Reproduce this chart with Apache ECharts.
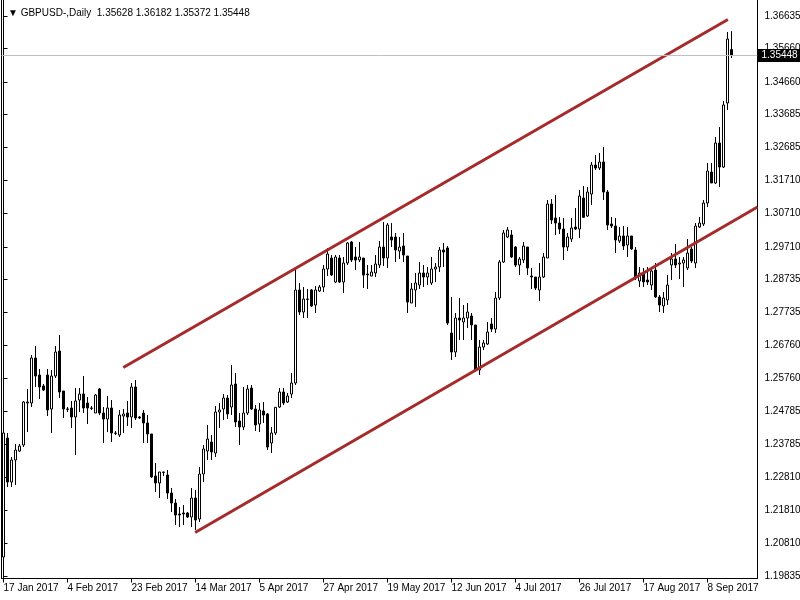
<!DOCTYPE html>
<html><head><meta charset="utf-8">
<script src="https://cdn.jsdelivr.net/npm/echarts@6/dist/echarts.min.js"></script>
<style>html,body{margin:0;padding:0;background:#fff}#c{width:800px;height:600px}</style>
</head><body><div id="c"></div>
<script>
const opens = [
1.20405,1.23975,1.22655,1.23315,1.23585,1.23765,1.25025,1.25025,1.26375,1.25865,
1.25535,1.25865,1.24845,1.25835,1.26585,1.25385,1.24845,1.24875,1.24605,1.25115,
1.25295,1.25025,1.24875,1.24725,1.25445,1.24725,1.24545,1.24875,1.24125,1.24065,
1.24635,1.24725,1.24605,1.25505,1.24605,1.24725,1.24425,1.24095,1.22835,1.22625,
1.22955,1.22865,1.22325,1.22025,1.21695,1.21725,1.21725,1.21605,1.22175,1.21545,
1.22895,1.23585,1.23855,1.23525,1.24755,1.24845,1.25175,1.24905,1.25595,1.24485,
1.24305,1.24725,1.25475,1.24845,1.24395,1.24785,1.24695,1.23825,1.24125,1.24905,
1.25355,1.25055,1.25295,1.25625,1.28415,1.27755,1.28145,1.28415,1.27965,1.28385,
1.28505,1.29045,1.29375,1.28655,1.29375,1.28655,1.29225,1.29855,1.29405,1.29315,
1.29375,1.28895,1.28835,1.28925,1.29165,1.29705,1.29375,1.30005,1.30005,1.29585,
1.29735,1.29435,1.28025,1.28415,1.28565,1.28925,1.28805,1.28625,1.29045,1.29105,
1.29615,1.29675,1.27125,1.26555,1.27575,1.27455,1.27575,1.27635,1.27365,1.26015,
1.26705,1.26795,1.27395,1.27245,1.28175,1.29255,1.30005,1.30065,1.29705,1.29165,
1.29315,1.29705,1.28835,1.28805,1.28415,1.28805,1.29375,1.30995,1.30575,1.30425,
1.30245,1.29705,1.29945,1.30305,1.30245,1.31175,1.30635,1.31295,1.32165,1.32075,
1.32255,1.31355,1.30395,1.30335,1.29885,1.30035,1.29765,1.30035,1.29615,1.28685,
1.28925,1.28715,1.28565,1.29015,1.28205,1.27935,1.28115,1.29165,1.29345,1.29195,
1.29225,1.29075,1.29645,1.29225,1.30305,1.30395,1.31025,1.31955,1.31625,1.32825,
1.32105,1.34025,1.35628];
const highs = [
1.24155,1.24125,1.23405,1.23795,1.23795,1.25085,1.25445,1.26465,1.26735,1.26045,
1.25595,1.26045,1.26015,1.26735,1.27065,1.25385,1.24905,1.25085,1.25475,1.25475,
1.25835,1.25205,1.24935,1.25295,1.25475,1.24905,1.25235,1.25115,1.24185,1.24815,
1.24845,1.25085,1.25625,1.25715,1.24635,1.24815,1.24665,1.24095,1.23225,1.22955,
1.22955,1.23015,1.22475,1.22145,1.21905,1.21965,1.21755,1.22475,1.22415,1.23105,
1.23765,1.24365,1.24065,1.24935,1.25025,1.25295,1.25265,1.26165,1.25925,1.24725,
1.25505,1.25565,1.25565,1.24965,1.25025,1.25055,1.24725,1.24305,1.24905,1.25475,
1.25475,1.25325,1.25925,1.29045,1.28625,1.28505,1.28445,1.28445,1.28535,1.28565,
1.29165,1.29675,1.29465,1.29465,1.29465,1.29405,1.29855,1.29885,1.29705,1.29855,
1.29375,1.29165,1.29165,1.29465,1.29885,1.30455,1.30425,1.30425,1.30125,1.30005,
1.30125,1.29435,1.28625,1.28925,1.29255,1.29165,1.29105,1.29405,1.29225,1.29705,
1.29825,1.29735,1.28205,1.27725,1.28175,1.27965,1.28025,1.27725,1.27365,1.26915,
1.26915,1.27455,1.27575,1.28355,1.29315,1.30215,1.30305,1.30215,1.29735,1.29405,
1.29855,1.29705,1.29075,1.28805,1.29225,1.29525,1.31115,1.31145,1.31265,1.30605,
1.30575,1.30125,1.30575,1.30875,1.31415,1.31535,1.31505,1.32255,1.32465,1.32525,
1.32705,1.31415,1.30605,1.30575,1.30305,1.30335,1.30305,1.30035,1.29705,1.29105,
1.29075,1.29105,1.29105,1.29225,1.28265,1.28355,1.28865,1.29525,1.29795,1.29405,
1.29405,1.29945,1.29705,1.30425,1.30605,1.31115,1.32225,1.32225,1.33005,1.33305,
1.34085,1.36155,1.36182];
const lows = [
1.20165,1.22505,1.22505,1.22565,1.23555,1.23705,1.24155,1.24905,1.25505,1.25145,
1.25385,1.24635,1.24125,1.25775,1.25175,1.24575,1.24755,1.24275,1.23465,1.24755,
1.24725,1.24395,1.24815,1.24725,1.24665,1.23825,1.24155,1.23855,1.24065,1.24005,
1.24125,1.24335,1.24275,1.24515,1.24545,1.23825,1.23825,1.22775,1.22355,1.22175,
1.22835,1.22145,1.21755,1.21365,1.21305,1.21365,1.21575,1.21305,1.21215,1.21455,
1.22655,1.23315,1.23315,1.23405,1.24275,1.24515,1.24545,1.24665,1.24305,1.23765,
1.24215,1.24665,1.24815,1.24185,1.24155,1.24425,1.23615,1.23525,1.24065,1.24875,
1.24965,1.25025,1.25175,1.25565,1.27665,1.27575,1.27575,1.27905,1.27725,1.28355,
1.28355,1.28835,1.28835,1.28625,1.28625,1.28325,1.29165,1.29255,1.29015,1.29255,
1.28475,1.28445,1.28835,1.28805,1.29075,1.29135,1.29075,1.29705,1.29255,1.29345,
1.29255,1.27725,1.28025,1.27905,1.28445,1.28505,1.28565,1.28565,1.28655,1.28955,
1.29105,1.27365,1.26315,1.26405,1.26915,1.26915,1.27275,1.26915,1.25955,1.25865,
1.26615,1.26765,1.27155,1.27125,1.28115,1.29225,1.29975,1.29375,1.29105,1.28865,
1.29225,1.28865,1.28445,1.28415,1.28085,1.28775,1.29375,1.30395,1.30065,1.30095,
1.29315,1.29585,1.29855,1.30215,1.29975,1.30575,1.30605,1.30965,1.32015,1.32015,
1.31115,1.30215,1.30275,1.29525,1.29825,1.29615,1.29405,1.29615,1.28715,1.28505,
1.28505,1.28565,1.28415,1.28175,1.27755,1.27725,1.27965,1.28715,1.29075,1.28745,
1.28505,1.29015,1.29225,1.29075,1.30275,1.30335,1.30905,1.31625,1.31595,1.31505,
1.32075,1.33815,1.35372];
const closes = [
1.24125,1.22655,1.23315,1.23615,1.23735,1.25055,1.25055,1.26375,1.25835,1.25505,
1.25415,1.24815,1.25835,1.26555,1.25355,1.24845,1.24835,1.24605,1.25085,1.25295,
1.24875,1.24875,1.24865,1.25265,1.24725,1.24545,1.24875,1.24125,1.24115,1.24665,
1.24695,1.24605,1.25505,1.24575,1.24575,1.24425,1.24095,1.22805,1.22625,1.22955,
1.22945,1.22325,1.22025,1.21665,1.21665,1.21695,1.21605,1.22175,1.21515,1.22895,
1.23645,1.23945,1.23555,1.24755,1.24815,1.25175,1.24695,1.25565,1.24455,1.24305,
1.24725,1.25445,1.24845,1.24365,1.24815,1.24665,1.23705,1.24125,1.24895,1.25355,
1.25025,1.25235,1.25625,1.28415,1.27755,1.28145,1.28135,1.27935,1.28415,1.28505,
1.29045,1.29495,1.28865,1.29405,1.28655,1.29225,1.29825,1.29315,1.29315,1.29405,
1.28865,1.28865,1.28955,1.29195,1.29705,1.29375,1.30365,1.29915,1.29615,1.29705,
1.29465,1.28055,1.28445,1.28625,1.28925,1.28805,1.28925,1.29045,1.29105,1.29615,
1.29555,1.27425,1.26555,1.27575,1.27515,1.27575,1.27755,1.27365,1.26015,1.26705,
1.26825,1.27155,1.27245,1.28175,1.29255,1.30125,1.30215,1.29405,1.29165,1.29345,
1.29735,1.29075,1.28805,1.28475,1.28805,1.29405,1.30995,1.30515,1.30425,1.30245,
1.29705,1.30005,1.30275,1.30245,1.31235,1.30595,1.31355,1.32165,1.32075,1.32255,
1.31355,1.30365,1.30335,1.29915,1.30035,1.29735,1.30035,1.29645,1.28805,1.28925,
1.28655,1.28655,1.28985,1.28205,1.27965,1.28175,1.28565,1.29345,1.29165,1.29225,
1.29315,1.29525,1.29285,1.30335,1.30425,1.31025,1.31985,1.31625,1.32825,1.32105,
1.33965,1.35945,1.35448];
const priceTicks = [1.36635,1.35660,1.34660,1.33685,1.32685,1.31710,1.30710,1.29710,1.28735,1.27735,1.26760,1.25760,1.24785,1.23785,1.22810,1.21810,1.20810,1.19835];
const upperChannel = [[29.95, 1.2609], [181.1, 1.3653]];
const lowerChannel = [[47.9, 1.2114], [188.5, 1.30905]];
const lastPrice = 1.35448;
const headerText = '\u25BC GBPUSD-,Daily  1.35628 1.36182 1.35372 1.35448';
const totalSlots = 189;

const months = ['Jan','Feb','Mar','Apr','May','Jun','Jul','Aug','Sep','Oct','Nov','Dec'];
const dates = [];
let t = Date.UTC(2017, 0, 17);
const satEnd = Date.UTC(2017, 2, 12);
while (dates.length < totalSlots) {
  const d = new Date(t);
  const wd = d.getUTCDay();
  if (wd !== 0 && (wd !== 6 || t < satEnd)) {
    dates.push(d.getUTCDate() + ' ' + months[d.getUTCMonth()] + ' ' + d.getUTCFullYear());
  }
  t += 86400000;
}
const candles = opens.map((o, i) => [o, closes[i], lows[i], highs[i]]);

const FONT = 'Liberation Sans';
const chart = echarts.init(document.getElementById('c'), null, {renderer: 'canvas'});
chart.setOption({
  animation: false,
  backgroundColor: '#fff',
  title: {
    text: headerText, left: 3, top: 3,
    textStyle: {fontFamily: FONT, fontSize: 10, fontWeight: 'normal', color: '#000'}
  },
  grid: {left: 1.5, right: 42.5, top: -0.5, bottom: 21.5, containLabel: false, outerBoundsMode: 'none',
         show: true, borderColor: '#000', borderWidth: 1, backgroundColor: '#fff'},
  xAxis: [{
    type: 'category', data: dates, boundaryGap: true,
    axisLine: {show: true, lineStyle: {color: '#000', width: 1}},
    axisTick: {show: true, interval: 15, alignWithLabel: true, length: 4, lineStyle: {color: '#000'}},
    axisLabel: {interval: 15, align: 'left', margin: 5, color: '#000', fontFamily: FONT, fontSize: 10},
    splitLine: {show: false}
  }, {
    type: 'value', min: -0.5, max: totalSlots - 0.5, show: false
  }],
  yAxis: {
    type: 'value', position: 'right', scale: true,
    min: 1.1976, max: 1.37130,
    axisLine: {show: true, lineStyle: {color: '#000'}},
    axisTick: {show: true, length: 4, customValues: priceTicks, lineStyle: {color: '#000'}},
    axisLabel: {show: true, customValues: priceTicks, margin: 7, color: '#000', fontFamily: FONT, fontSize: 10, formatter: v => Number(v).toFixed(5)},
    splitLine: {show: false}
  },
  series: [{
    type: 'candlestick', data: candles, xAxisIndex: 0, barWidth: 2,
    itemStyle: {color: '#fff', color0: '#000', borderColor: '#000', borderColor0: '#000', borderColorDoji: '#000', borderWidth: 1},
    emphasis: {disabled: true},
    markLine: {
      silent: true, symbol: ['none', 'none'], animation: false, precision: 5,
      lineStyle: {color: '#c0c0c0', width: 1, type: 'solid'},
      label: {position: 'end', distance: 0, formatter: lastPrice.toFixed(5), backgroundColor: '#000', color: '#fff', padding: [2, 4, 1, 4], fontFamily: FONT, fontSize: 10},
      emphasis: {disabled: true},
      data: [{yAxis: lastPrice}]
    },
    z: 3
  }, {
    type: 'line', xAxisIndex: 1, data: upperChannel, symbol: 'none', silent: true,
    lineStyle: {color: '#a52a2a', width: 3}, z: 4
  }, {
    type: 'line', xAxisIndex: 1, data: lowerChannel, symbol: 'none', silent: true,
    lineStyle: {color: '#a52a2a', width: 3}, z: 4
  }]
});
</script></body></html>
